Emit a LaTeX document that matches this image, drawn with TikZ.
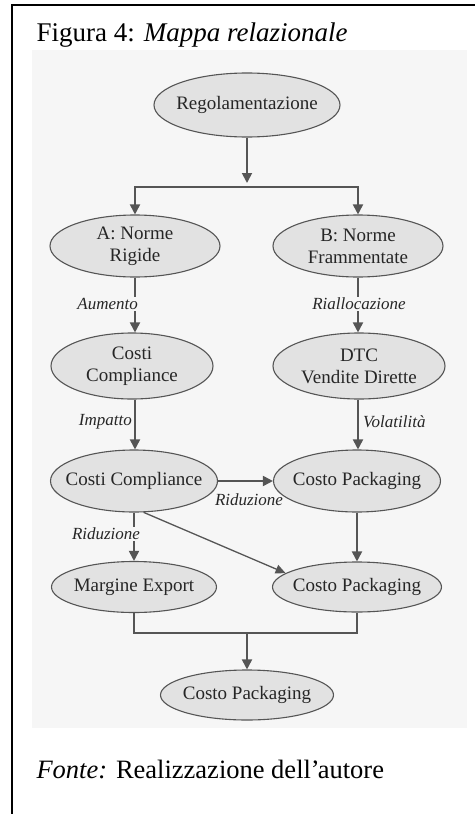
\documentclass[tikz,border=0pt]{standalone}
\usepackage{fontspec}
\setmainfont{Liberation Serif}
\usetikzlibrary{shapes.geometric,arrows.meta}
\definecolor{bgc}{HTML}{F6F6F6}
\definecolor{nodefill}{HTML}{E2E2E2}
\definecolor{edgec}{HTML}{555555}
\definecolor{txt}{HTML}{262626}
\newcommand\zw[1]{\makebox[0pt]{#1}}
\begin{document}
\begin{tikzpicture}[x=1pt,y=1pt,
  ell/.style={ellipse, draw=edgec, line width=1.1pt, fill=nodefill, inner sep=0pt,
    text=txt, font=\fontsize{19}{22}\selectfont, align=center},
  arr/.style={draw=edgec, line width=1.8pt, -{Triangle[length=10pt,width=10pt]}},
  thinarr/.style={draw=edgec, line width=1.3pt, -{Triangle[length=10pt,width=9pt]}},
  conn/.style={draw=edgec, line width=1.8pt},
  lab/.style={font=\fontsize{17}{19}\selectfont\itshape, text=txt, inner sep=1pt},
  labfill/.style={lab, fill=bgc},
]
\useasboundingbox (0,0) rectangle (475,-814);
\fill[bgc] (32,-50) rectangle (467,-728);
\draw[line width=1.5pt] (12,-814) -- (12,-5) -- (475,-5);

\node[anchor=base west, font=\fontsize{27}{30}\selectfont] (title) at (33,-41) {Figura 4: \textit{Mappa relazionale}};
\node[anchor=base west, font=\fontsize{26.5}{30}\selectfont] (fonte) at (33,-778) {\textit{Fonte:} Realizzazione dell’\kern-2pt autore};

\node[ell, minimum width=186pt, minimum height=64pt] (reg) at (247,-105) {\zw{Regolamentazione}};
\node[ell, minimum width=170pt, minimum height=62pt] (A) at (135,-246) {\zw{A: Norme}\\\zw{Rigide}};
\node[ell, minimum width=170pt, minimum height=62pt] (B) at (358,-246) {\zw{B: Norme}\\\zw{Frammentate}};
\node[ell, minimum width=162pt, minimum height=66pt] (C1) at (132,-366) {\zw{Costi}\\\zw{Compliance}};
\node[ell, minimum width=172pt, minimum height=66pt] (D) at (359,-366) {\zw{DTC}\\\zw{Vendite Dirette}};
\node[ell, minimum width=167pt, minimum height=62pt] (C2) at (134,-481) {\zw{Costi Compliance}};
\node[ell, minimum width=167pt, minimum height=62pt] (P1) at (357,-481) {\zw{Costo Packaging}};
\node[ell, minimum width=165pt, minimum height=51pt] (M) at (134,-587) {\zw{Margine Export}};
\node[ell, minimum width=169pt, minimum height=50pt] (P2) at (357,-587) {\zw{Costo Packaging}};
\node[ell, minimum width=173pt, minimum height=50pt] (F) at (247,-695) {\zw{Costo Packaging}};

\coordinate (jt) at (247,-187);
\draw[arr, shorten >=4pt] (reg) -- (jt);
\draw[arr] (jt) -| (A);
\draw[arr] (jt) -| (B);

\draw[arr] (A) -- (A |- C1.north);
\node[labfill, anchor=east] (l1) at (139,-304) {Aumento};
\draw[arr] (B) -- (B |- D.north);
\node[labfill] (l2) at (359,-304) {Riallocazione};

\draw[arr] (C1.south -| A) -- (A |- C2.north);
\node[lab, anchor=east] (l3) at (133,-422) {Impatto};
\draw[arr] (D.south -| B) -- (B |- P1.north);
\node[lab, anchor=west] (l4) at (362,-422) {Volatilità};

\draw[arr] (C2) -- (P1);
\node[lab] (l5) at (249,-500) {Riduzione};

\draw[arr] (C2.south) -- (M);
\node[labfill] (l6) at (106,-534) {Riduzione};
\draw[thinarr] (C2.-73) -- (P2.169);
\draw[arr] (P1) -- (P2);

\coordinate (jb) at (247,-633);
\draw[conn] (M.south) -- (M.south |- jb) -| (P2.south);
\draw[arr] (jb) -- (F);
\end{tikzpicture}
\end{document}
